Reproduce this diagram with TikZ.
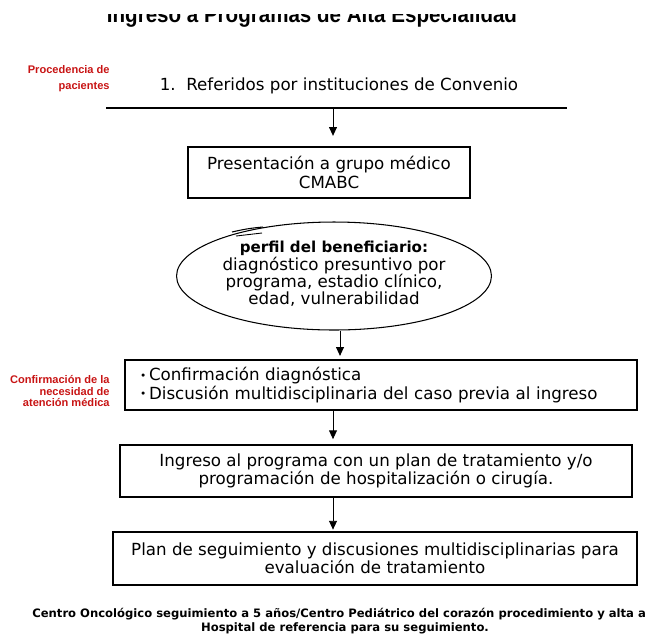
\documentclass[tikz,border=0pt]{standalone}
\usepackage{fontspec}
\setmainfont{DejaVu Sans}
\newfontfamily\rotfont{Liberation Sans}
\newfontfamily\titfont[FakeStretch=0.9]{Liberation Sans}
\usetikzlibrary{arrows.meta,shapes.geometric,positioning}
\definecolor{rojo}{RGB}{200,20,20}
\newcommand{\punto}{\raisebox{0.15ex}{\fontsize{6}{6}\selectfont\textbullet}\,}
\tikzset{
  caja/.style={draw, line width=0.7pt, align=center, inner sep=0pt,
    font=\fontsize{9.5}{10.4}\selectfont},
  flecha/.style={-{Triangle[length=5pt,width=4.5pt]}, line width=0.5pt},
  nota/.style={font=\rotfont\bfseries\fontsize{6.3}{6.8}\selectfont,
    text=rojo, align=right, anchor=east, inner sep=0pt}
}
\begin{document}
\begin{tikzpicture}[x=0.02cm,y=-0.02cm]
\useasboundingbox (0,0) rectangle (652,637);
% titulo (cortado arriba)
\begin{scope}
\clip (0,14) rectangle (652,40);
\node[font=\titfont\bfseries\fontsize{13}{13}\selectfont, anchor=base] (titulo) at (312,22) {Ingreso a Programas de Alta Especialidad};
\end{scope}
\node[nota] (proc) at (110,79) {Procedencia de\\[2.2pt]pacientes};
\node[font=\fontsize{9.5}{10.4}\selectfont] (referidos) at (339,86) {1.\ \ Referidos por instituciones de Convenio};
\coordinate (linL) at (106,108);
\coordinate (linR) at (567,108);
\coordinate (eje) at (333,108);
\draw[line width=0.7pt] (linL) -- (linR);
\node[caja, minimum width=5.64cm, minimum height=1.02cm] (grupo) at (329,172.5) {Presentación a grupo médico\\CMABC};
\node[ellipse, draw, line width=0.6pt, inner sep=0pt, minimum width=6.3cm, minimum height=2.16cm] (perfil) at (334,276) {};
\node[align=center, font=\fontsize{9.5}{9.8}\selectfont] (perfiltxt) at (334,274) {{\fontsize{8.6}{9.8}\selectfont\bfseries perfil del beneficiario:}\\diagnóstico presuntivo por\\programa, estadio clínico,\\edad, vulnerabilidad};
\draw[line width=0.6pt] (232,232) to[bend left=4] (263,227);
\draw[line width=0.5pt] (236,236) -- (262,233);
\node[nota] (confirm) at (110,391) {Confirmación de la\\necesidad de\\atención médica};
\node[caja, align=left, minimum width=10.24cm, minimum height=1.0cm, text width=9.64cm] (caso) at (381,385) {\punto Confirmación diagnóstica\\\punto Discusión multidisciplinaria del caso previa al ingreso};
\node[caja, minimum width=10.24cm, minimum height=1.04cm] (ingreso) at (376,471) {Ingreso al programa con un plan de tratamiento y/o\\programación de hospitalización o cirugía.};
\node[caja, minimum width=10.48cm, minimum height=1.06cm] (plan) at (375,558.5) {Plan de seguimiento y discusiones multidisciplinarias para\\evaluación de tratamiento};
\draw[flecha, shorten >=6pt] (eje) -- (eje |- grupo.north);
\draw[flecha, shorten >=2pt] ([xshift=0.12cm]perfil.south) -- ([xshift=0.12cm]perfil.south |- caso.north);
\draw[flecha, shorten >=3pt] (caso.south -| eje) -- (ingreso.north -| eje);
\draw[flecha, shorten >=1pt] (ingreso.south -| eje) -- (plan.north -| eje);
% pie
\node[anchor=west, font=\bfseries\fontsize{6.6}{8}\selectfont, inner sep=0pt] (pie1) at (32,614) {Centro Oncológico seguimiento a 5 años/Centro Pediátrico del corazón procedimiento y alta a};
\node[font=\bfseries\fontsize{6.6}{8}\selectfont, inner sep=0pt] (pie2) at (345,628) {Hospital de referencia para su seguimiento.};
\end{tikzpicture}
\end{document}
